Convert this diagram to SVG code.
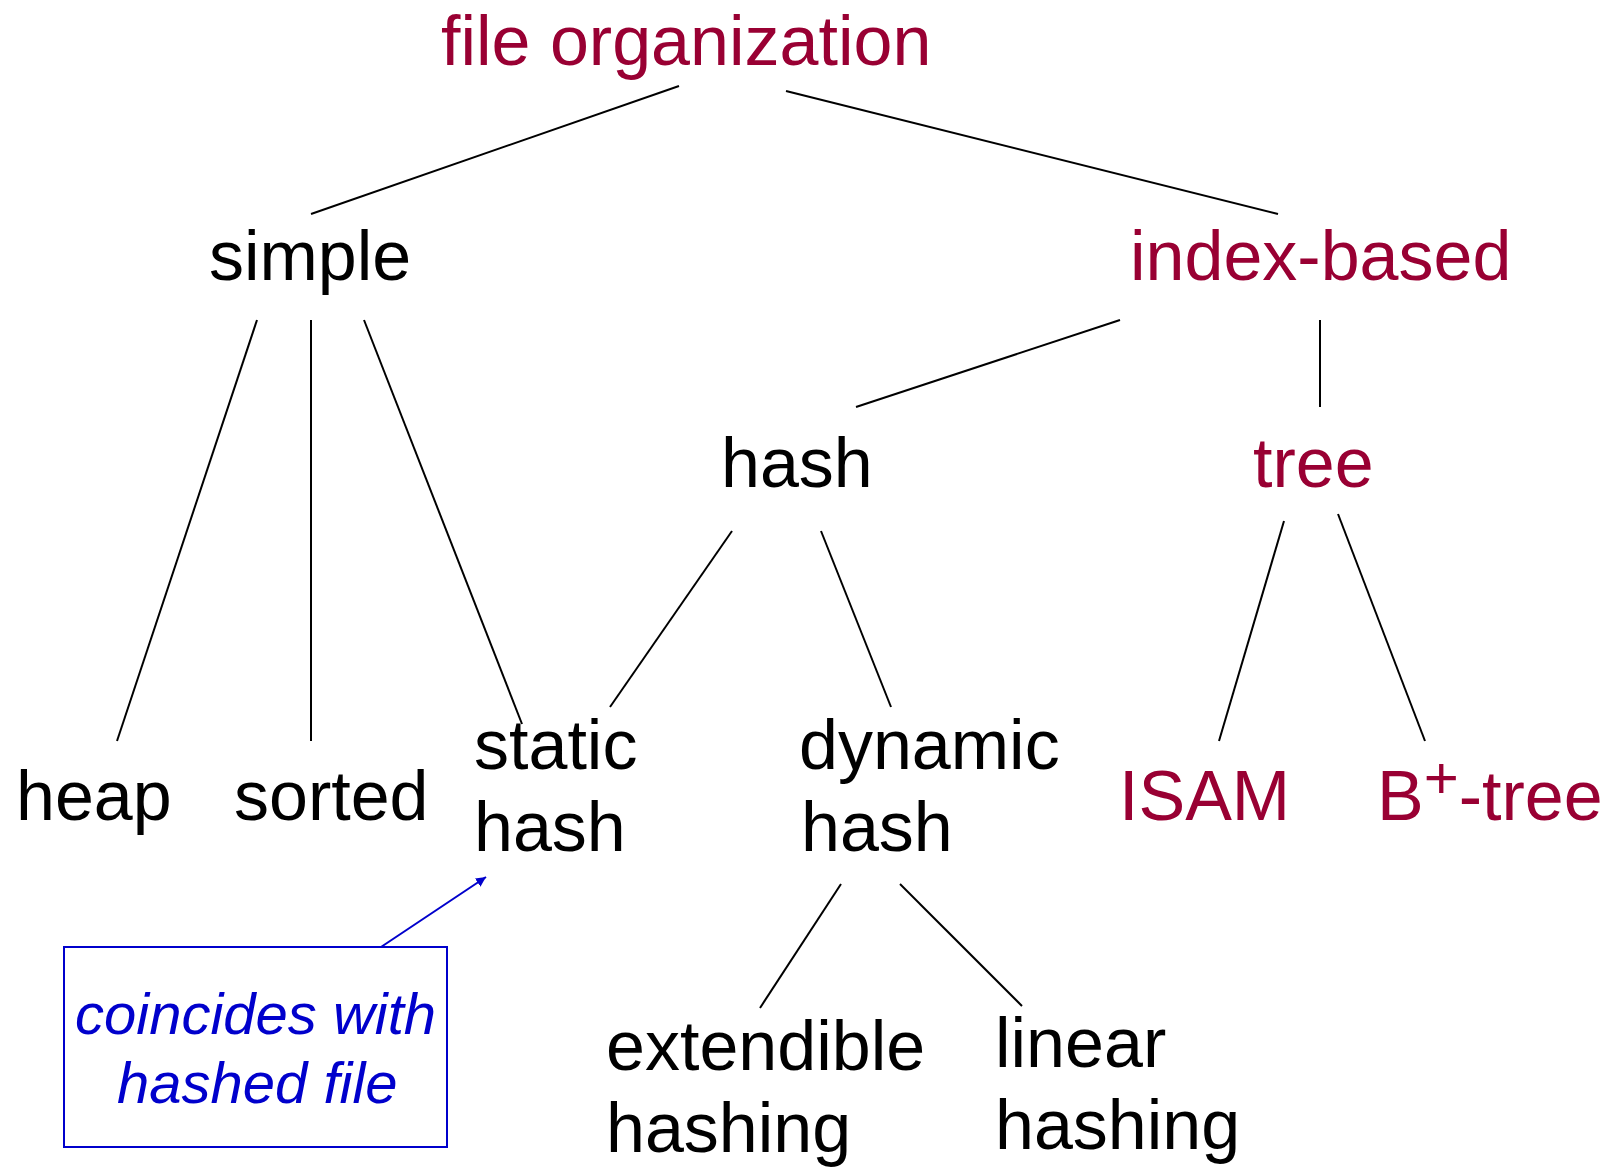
<svg xmlns="http://www.w3.org/2000/svg" width="1608" height="1167" viewBox="0 0 1608 1167">
<defs>
<style>
text{font-family:"Liberation Sans",Arial,Helvetica,sans-serif;font-size:70px;fill:#000}
.red{fill:#990033}
.note{fill:#0000cc;font-size:58px;font-style:italic}
.edge{stroke:#000;stroke-width:2;fill:none}
</style>
<marker id="ah" viewBox="0 0 10 10" refX="10" refY="5" markerWidth="5" markerHeight="5" orient="auto"><path d="M0,0 L10,5 L0,10 z" fill="#0000cc"/></marker>
</defs>
<rect width="1608" height="1167" fill="#fff"/>
<g id="connectors">
<line class="edge" x1="679" y1="86" x2="311" y2="214"/>
<line class="edge" x1="786" y1="91" x2="1278" y2="214"/>
<line class="edge" x1="257" y1="320" x2="117" y2="741"/>
<line class="edge" x1="311" y1="320" x2="311" y2="741"/>
<line class="edge" x1="364" y1="320" x2="522" y2="724"/>
<line class="edge" x1="1120" y1="320" x2="856" y2="407"/>
<line class="edge" x1="1320" y1="320" x2="1320" y2="407"/>
<line class="edge" x1="732" y1="531" x2="610" y2="707"/>
<line class="edge" x1="821" y1="531" x2="891" y2="707"/>
<line class="edge" x1="1284" y1="521" x2="1219" y2="741"/>
<line class="edge" x1="1338" y1="514" x2="1425" y2="741"/>
<line class="edge" x1="841" y1="884" x2="760" y2="1008"/>
<line class="edge" x1="900" y1="884" x2="1022" y2="1006"/>
<line x1="381" y1="947" x2="486" y2="877" stroke="#0000cc" stroke-width="2" marker-end="url(#ah)"/>
</g>
<g id="file-organization"><text class="red" x="441" y="65">file organization</text></g>
<g id="simple"><text x="209" y="280">simple</text></g>
<g id="index-based"><text class="red" x="1130" y="280">index-based</text></g>
<g id="hash"><text x="721" y="487">hash</text></g>
<g id="tree"><text class="red" x="1253" y="487">tree</text></g>
<g id="heap"><text x="16" y="820">heap</text></g>
<g id="sorted"><text x="234" y="820">sorted</text></g>
<g id="static-hash"><text x="474" y="769">static</text><text x="474" y="851">hash</text></g>
<g id="dynamic-hash"><text x="799" y="769">dynamic</text><text x="801" y="851">hash</text></g>
<g id="isam"><text class="red" x="1119" y="820">ISAM</text></g>
<g id="bplus-tree"><text class="red" x="1377" y="820">B<tspan font-size="60" dy="-22">+</tspan><tspan dy="22">-tree</tspan></text></g>
<g id="extendible-hashing"><text x="606" y="1070">extendible</text><text x="606" y="1152">hashing</text></g>
<g id="linear-hashing"><text x="995" y="1067">linear</text><text x="995" y="1149">hashing</text></g>
<g id="note">
<rect x="64" y="947" width="383" height="200" fill="none" stroke="#0000cc" stroke-width="2"/>
<text class="note" x="75" y="1034">coincides with</text>
<text class="note" x="117" y="1103">hashed file</text>
</g>
</svg>
